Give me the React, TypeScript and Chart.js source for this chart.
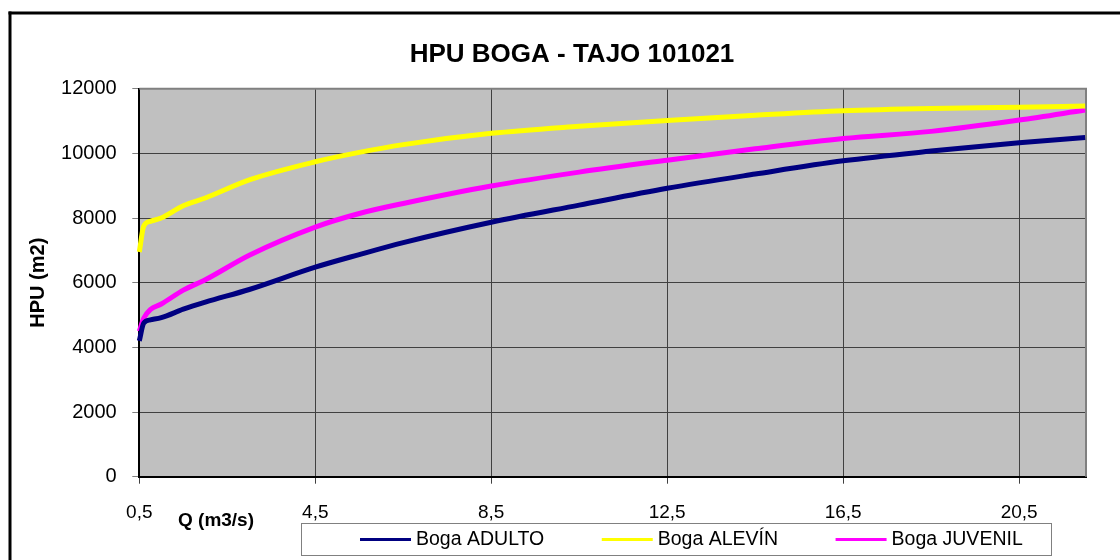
import React, { useEffect, useRef } from "react";
import { Chart, registerables } from "chart.js";

Chart.register(...registerables);

// ---- data ----
const Q = [0.5, 0.6, 0.75, 1.0, 1.5, 2.0, 3.0, 4.5, 5.5, 6.5, 8.5, 10.5, 12.5, 14.5, 16.5, 18.5, 20.5, 22];
const adulto = [4200, 4750, 4850, 4920, 5180, 5400, 5790, 6480, 6870, 7240, 7870, 8400, 8920, 9360, 9770, 10070, 10330, 10490];
const alevin = [6950, 7750, 7900, 8000, 8380, 8620, 9180, 9740, 10030, 10270, 10620, 10840, 11020, 11180, 11320, 11390, 11425, 11465];
const juvenil = [4500, 4900, 5170, 5340, 5770, 6090, 6850, 7720, 8140, 8450, 8990, 9420, 9790, 10140, 10460, 10680, 11030, 11340];
const seriesNames = ["Boga ADULTO", "Boga ALEVÍN", "Boga JUVENIL"];
const seriesColors = ["#000080", "#FFFF00", "#FF00FF"];
const xTickValues = [0.5, 4.5, 8.5, 12.5, 16.5, 20.5];
const xTickLabels = ["0,5", "4,5", "8,5", "12,5", "16,5", "20,5"];
const yTickValues = [0, 2000, 4000, 6000, 8000, 10000, 12000];
const yTickLabels = ["0", "2000", "4000", "6000", "8000", "10000", "12000"];
const chartTitle = "HPU BOGA - TAJO 101021";
const xTitle = "Q (m3/s)";
const yTitle = "HPU (m2)";

const FONT = "'Liberation Sans', Arial, sans-serif";

const decorPlugin = {
  id: "decor",
  beforeDraw(chart: any) {
    const { ctx, chartArea: a } = chart;
    ctx.save();
    ctx.fillStyle = "#FFFFFF";
    ctx.fillRect(0, 0, chart.width, chart.height);
    ctx.fillStyle = "#C0C0C0";
    ctx.fillRect(a.left, a.top, a.right - a.left, a.bottom - a.top);
    ctx.restore();
  },
  beforeDatasetsDraw(chart: any) {
    const { ctx, chartArea: a } = chart;
    ctx.save();
    ctx.strokeStyle = "#808080";
    ctx.lineWidth = 2;
    ctx.beginPath();
    ctx.moveTo(a.left, a.top);
    ctx.lineTo(a.right, a.top);
    ctx.lineTo(a.right, a.bottom);
    ctx.stroke();
    ctx.restore();
  },
  afterDraw(chart: any) {
    const { ctx, chartArea: a } = chart;
    ctx.save();
    // outer frame (top and left)
    ctx.fillStyle = "#000000";
    ctx.fillRect(8.5, 11.5, 1120, 3);
    ctx.fillRect(8.5, 11.5, 3, 560);

    // title
    ctx.fillStyle = "#000000";
    ctx.font = `bold 26px ${FONT}`;
    ctx.textAlign = "center";
    ctx.textBaseline = "middle";
    ctx.fillText(chartTitle, 572, 55);

    // y title
    ctx.font = `bold 20px ${FONT}`;
    ctx.save();
    ctx.translate(38, (a.top + a.bottom) / 2);
    ctx.rotate(-Math.PI / 2);
    ctx.fillText(yTitle, 0, 0);
    ctx.restore();

    // x title
    ctx.font = `bold 19px ${FONT}`;
    ctx.textAlign = "left";
    ctx.fillText(xTitle, 178, 521);

    // legend box
    const bx = 301.5, by = 523.5, bw = 750, bh = 32;
    ctx.fillStyle = "#FFFFFF";
    ctx.fillRect(bx, by, bw, bh);
    ctx.strokeStyle = "#808080";
    ctx.lineWidth = 1;
    ctx.strokeRect(bx, by, bw, bh);
    ctx.font = `19.5px ${FONT}`;
    ctx.textBaseline = "middle";
    let x = 360;
    const cy = 539.5;
    seriesNames.forEach((name, i) => {
      ctx.strokeStyle = seriesColors[i];
      ctx.lineWidth = 3;
      ctx.beginPath();
      ctx.moveTo(x, cy);
      ctx.lineTo(x + 51, cy);
      ctx.stroke();
      ctx.fillStyle = "#000000";
      ctx.fillText(name, x + 56, cy);
      x += 56 + ctx.measureText(name).width + 57.5;
    });
    ctx.restore();
  },
};

export default function App() {
  const ref = useRef<HTMLCanvasElement | null>(null);
  useEffect(() => {
    if (!ref.current) return;
    const series = [adulto, alevin, juvenil];
    const chart = new Chart(ref.current, {
      type: "line",
      data: {
        datasets: series.map((arr, i) => ({
          label: seriesNames[i],
          data: Q.map((q, j) => ({ x: q, y: arr[j] })),
          borderColor: seriesColors[i],
          backgroundColor: seriesColors[i],
          borderWidth: 5,
          pointRadius: 0,
          fill: false,
          cubicInterpolationMode: "monotone",
          clip: false,
        })),
      },
      options: {
        animation: false,
        responsive: false,
        devicePixelRatio: 1,
        layout: { padding: { top: 88.7, right: 34, left: 0, bottom: 0 } },
        plugins: {
          legend: { display: false },
          title: { display: false },
          tooltip: { enabled: false },
        },
        scales: {
          x: {
            type: "linear",
            min: 0.5,
            max: 22.02,
            afterBuildTicks: (s: any) => {
              s.ticks = xTickValues.map((v) => ({ value: v }));
            },
            afterFit: (s: any) => {
              s.height = 83.3;
            },
            ticks: {
              autoSkip: false,
              maxRotation: 0,
              padding: 18,
              color: "#000000",
              font: { family: FONT, size: 19 },
              callback: (v: any) => {
                const i = xTickValues.indexOf(Number(v));
                return i >= 0 ? xTickLabels[i] : "";
              },
            },
            grid: {
              color: "#404040",
              lineWidth: 1,
              tickLength: 7,
              tickColor: "#404040",
            },
            border: { display: true, color: "#000000", width: 2 },
          },
          y: {
            type: "linear",
            min: 0,
            max: 12000,
            afterBuildTicks: (s: any) => {
              s.ticks = yTickValues.map((v) => ({ value: v }));
            },
            afterFit: (s: any) => {
              s.width = 139.3;
            },
            ticks: {
              autoSkip: false,
              padding: 15.6,
              color: "#000000",
              font: { family: FONT, size: 20 },
              callback: (v: any) => {
                const i = yTickValues.indexOf(Number(v));
                return i >= 0 ? yTickLabels[i] : "";
              },
            },
            grid: {
              color: "#404040",
              lineWidth: 1,
              tickLength: 7,
              tickColor: "#808080",
            },
            border: { display: true, color: "#000000", width: 2 },
          },
        },
      },
      plugins: [decorPlugin],
    } as any);
    return () => chart.destroy();
  }, []);
  return (
    <div style={{ position: "absolute", left: 0, top: 0, width: 1120, height: 560 }}>
      <canvas ref={ref} width={1120} height={560} style={{ width: 1120, height: 560, display: "block" }} />
    </div>
  );
}
